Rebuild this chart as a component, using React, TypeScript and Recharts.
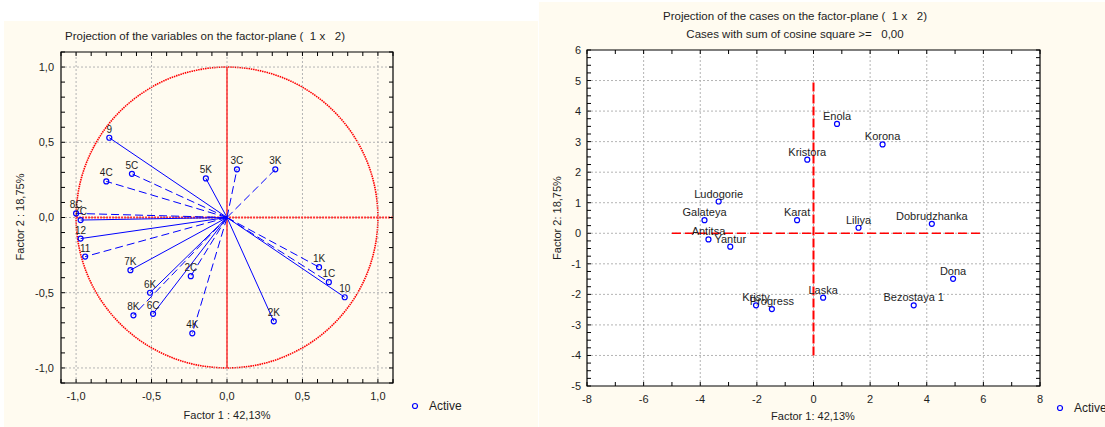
import React from "react";
import {
  ScatterChart,
  Scatter,
  XAxis,
  YAxis,
  ReferenceLine,
  ReferenceArea,
  CartesianGrid,
} from "recharts";

const FONT = "'Liberation Sans', Arial, Helvetica, sans-serif";
const CREAM = "#fffbf0";
const BLUE = "#0000ff";
const RED = "#ff0000";
const TXT = "#1e1e1e";

// ---------- Left chart: variables ----------
const varNames = ["9", "5C", "4C", "5K", "3C", "3K", "8C", "7C", "12", "11", "7K", "2C", "6K", "8K", "6C", "4K", "2K", "1K", "1C", "10"];
const varF1 = [-0.78, -0.63, -0.8, -0.14, 0.066, 0.32, -1.0, -0.97, -0.97, -0.94, -0.64, -0.24, -0.51, -0.62, -0.49, -0.23, 0.31, 0.61, 0.675, 0.78];
const varF2 = [0.53, 0.29, 0.24, 0.26, 0.32, 0.32, 0.027, -0.017, -0.14, -0.26, -0.35, -0.39, -0.5, -0.65, -0.64, -0.77, -0.69, -0.33, -0.43, -0.53];
const solidVars = ["9", "5K", "7C", "12", "7K", "6K", "6C", "2K", "10"];

const leftDomain: [number, number] = [-1.1, 1.1];
const leftMajorTicks = [-1, -0.5, 0, 0.5, 1];
const leftMinorStep = 0.1;

// ---------- Right chart: cases ----------
const caseNames = ["Enola", "Korona", "Kristora", "Ludogorie", "Galateya", "Karat", "Liliya", "Dobrudzhanka", "Antitsa", "Yantur", "Dona", "Laska", "Kristy", "Progress", "Bezostaya 1"];
const caseF1 = [0.83, 2.44, -0.22, -3.35, -3.85, -0.58, 1.59, 4.18, -3.71, -2.94, 4.93, 0.34, -2.03, -1.47, 3.54];
const caseF2 = [3.58, 2.91, 2.41, 1.04, 0.43, 0.43, 0.18, 0.31, -0.2, -0.44, -1.49, -2.11, -2.36, -2.48, -2.36];

const rightXDomain: [number, number] = [-8, 8];
const rightYDomain: [number, number] = [-5, 6];
const rightXLabels = [-8, -6, -4, -2, 0, 2, 4, 6, 8];
const rightYLabels = [-5, -4, -3, -2, -1, 0, 1, 2, 3, 4, 5, 6];
const rightXGrid = [-6, -4, -2, 0, 2, 4, 6];
const rightYGrid = [-4, -3, -2, -1, 0, 1, 2, 3, 4, 5];
const rightXMinorStep = 1;
const rightYMinorStep = 0.25;
// origin cross extents
const crossV = [-4, 5];
const crossH = [-5, 6];

// ---------- helpers ----------
const range = (a: number, b: number, s: number) =>
  Array.from({ length: Math.round((b - a) / s) + 1 }, (_, i) => +(a + i * s).toFixed(4));
const near = (v: number, list: number[]) => list.some((m) => Math.abs(m - v) < 1e-6);
const fmt1 = (v: number) => (Math.abs(v) < 1e-9 ? 0 : v).toFixed(1).replace(".", ",");

const varData = varNames.map((n, i) => ({ name: n, f1: varF1[i], f2: varF2[i] }));
const caseData = caseNames.map((n, i) => ({ name: n, f1: caseF1[i], f2: caseF2[i] }));

const leftTicks = range(leftDomain[0], leftDomain[1], leftMinorStep);
const rightXTicks = range(rightXDomain[0], rightXDomain[1], rightXMinorStep);
const rightYTicks = range(rightYDomain[0], rightYDomain[1], rightYMinorStep);

// geometry
const L_W = 534, L_H = 406;
const L_M = { top: 31, right: 145, bottom: 0, left: 0 };
const L_YW = 57, L_XH = 44;
const L_PW = L_W - L_M.left - L_M.right - L_YW;
const L_PH = L_H - L_M.top - L_M.bottom - L_XH;

const R_W = 566, R_H = 425;
const R_M = { top: 48, right: 65, bottom: 0, left: 0 };
const R_YW = 48, R_XH = 41;
const R_PW = R_W - R_M.left - R_M.right - R_YW;
const R_PH = R_H - R_M.top - R_M.bottom - R_XH;

const TL = 4; // tick length

const makeXTick = (plotH: number, isLabel: (v: number) => boolean, fmt: (v: number) => string) =>
  (props: any) => {
    const { x, y, payload } = props;
    const v = payload.value;
    return (
      <g>
        <line x1={x} y1={y} x2={x} y2={y - TL} stroke="#000" strokeWidth={1} />
        <line x1={x} y1={y - plotH} x2={x} y2={y - plotH + TL} stroke="#000" strokeWidth={1} />
        {isLabel(v) && (
          <text x={x} y={y + 17} textAnchor="middle" fontSize={11} fill={TXT} fontFamily={FONT}>
            {fmt(v)}
          </text>
        )}
      </g>
    );
  };

const makeYTick = (plotW: number, isLabel: (v: number) => boolean, fmt: (v: number) => string, gap: number) =>
  (props: any) => {
    const { x, y, payload } = props;
    const v = payload.value;
    return (
      <g>
        <line x1={x} y1={y} x2={x + TL} y2={y} stroke="#000" strokeWidth={1} />
        <line x1={x + plotW} y1={y} x2={x + plotW - TL} y2={y} stroke="#000" strokeWidth={1} />
        {isLabel(v) && (
          <text x={x - gap} y={y} dy="0.36em" textAnchor="end" fontSize={11} fill={TXT} fontFamily={FONT}>
            {fmt(v)}
          </text>
        )}
      </g>
    );
  };

const LeftXTick = makeXTick(L_PH, (v) => near(v, leftMajorTicks), fmt1);
const LeftYTick = makeYTick(L_PW, (v) => near(v, leftMajorTicks), fmt1, 7);
const RightXTick = makeXTick(R_PH, (v) => near(v, rightXLabels), (v) => String(Math.round(v)));
const RightYTick = makeYTick(R_PW, (v) => near(v, rightYLabels), (v) => String(Math.round(v)), 6);

const makePoint = (fontSize: number, lift: number) => (p: any) => {
  const name = p?.payload?.name ?? p?.name;
  return (
    <g>
      <circle cx={p.cx} cy={p.cy} r={2.5} fill="none" stroke={BLUE} strokeWidth={1.2} />
      <text x={p.cx} y={p.cy - lift} textAnchor="middle" fontSize={fontSize} fill={TXT} fontFamily={FONT}>
        {name}
      </text>
    </g>
  );
};

const Txt = ({ x, y, children, size = 11, rotate = false, anchor = "center" }: any) => (
  <div
    style={{
      position: "absolute",
      left: x,
      top: y,
      transform:
        (anchor === "left" ? "translate(0,-50%)" : "translate(-50%,-50%)") + (rotate ? " rotate(-90deg)" : ""),
      fontFamily: FONT,
      fontSize: size,
      color: TXT,
      whiteSpace: "pre",
      lineHeight: 1,
    }}
  >
    {children}
  </div>
);

const LegendMark = ({ x, y }: any) => (
  <svg style={{ position: "absolute", left: x - 4, top: y - 4 }} width={8} height={8}>
    <circle cx={4} cy={4} r={2.5} fill="none" stroke={BLUE} strokeWidth={1.2} />
  </svg>
);

const gridStyle = { stroke: "#b4b4b4", strokeDasharray: "2 2", strokeWidth: 1 };

export default function App() {
  return (
    <div style={{ position: "absolute", left: 0, top: 0, width: 1105, height: 427, background: "#fff", overflow: "hidden" }}>
      {/* Left panel */}
      <div style={{ position: "absolute", left: 4, top: 21, width: L_W, height: L_H, background: CREAM }}>
        <ScatterChart width={L_W} height={L_H} margin={L_M}>
          <XAxis
            type="number"
            dataKey="f1"
            domain={leftDomain}
            allowDataOverflow
            ticks={leftTicks}
            interval={0}
            height={L_XH}
            tickSize={0}
            tickMargin={0}
            axisLine={false}
            tickLine={false}
            tick={LeftXTick}
          />
          <YAxis
            type="number"
            dataKey="f2"
            domain={leftDomain}
            allowDataOverflow
            ticks={leftTicks}
            interval={0}
            width={L_YW}
            tickSize={0}
            tickMargin={0}
            axisLine={false}
            tickLine={false}
            tick={LeftYTick}
          />
          {leftMajorTicks.map((v) => (
            <ReferenceLine key={"lgx" + v} x={v} {...gridStyle} />
          ))}
          {leftMajorTicks.map((v) => (
            <ReferenceLine key={"lgy" + v} y={v} {...gridStyle} />
          ))}
          <ReferenceArea
            x1={-1}
            x2={1}
            y1={-1}
            y2={1}
            ifOverflow="visible"
            shape={(p: any) => (
              <ellipse
                cx={p.x + p.width / 2}
                cy={p.y + p.height / 2}
                rx={Math.abs(p.width) / 2}
                ry={Math.abs(p.height) / 2}
                fill="none"
                stroke={RED}
                strokeWidth={1.6}
                strokeDasharray="1.5 0.8"
              />
            )}
          />
          <ReferenceLine segment={[{ x: 0, y: -1 }, { x: 0, y: 1 }]} stroke={RED} strokeWidth={1.2} ifOverflow="visible" />
          <ReferenceLine
            segment={[{ x: -1, y: 0 }, { x: 1.1, y: 0 }]}
            stroke="#ff3030"
            strokeWidth={2}
            strokeDasharray="2 1"
            ifOverflow="visible"
          />
          {varData.map((d) => (
            <ReferenceLine
              key={"seg" + d.name}
              segment={[{ x: 0, y: 0 }, { x: d.f1, y: d.f2 }]}
              stroke={BLUE}
              strokeWidth={1}
              strokeDasharray={solidVars.includes(d.name) ? undefined : "8 4"}
              ifOverflow="visible"
            />
          ))}
          <ReferenceArea x1={leftDomain[0]} x2={leftDomain[1]} y1={leftDomain[0]} y2={leftDomain[1]} fill="none" stroke="#000" strokeWidth={1.2} fillOpacity={0} ifOverflow="visible" />
          <Scatter data={varData} isAnimationActive={false} shape={makePoint(10, 5)} />
        </ScatterChart>
      </div>

      {/* Right panel */}
      <div style={{ position: "absolute", left: 539, top: 2, width: R_W, height: R_H, background: CREAM }}>
        <ScatterChart width={R_W} height={R_H} margin={R_M}>
          <CartesianGrid horizontal={false} vertical={false} fill="#ffffff" />
          <XAxis
            type="number"
            dataKey="f1"
            domain={rightXDomain}
            allowDataOverflow
            ticks={rightXTicks}
            interval={0}
            height={R_XH}
            tickSize={0}
            tickMargin={0}
            axisLine={false}
            tickLine={false}
            tick={RightXTick}
          />
          <YAxis
            type="number"
            dataKey="f2"
            domain={rightYDomain}
            allowDataOverflow
            ticks={rightYTicks}
            interval={0}
            width={R_YW}
            tickSize={0}
            tickMargin={0}
            axisLine={false}
            tickLine={false}
            tick={RightYTick}
          />
          {rightXGrid.map((v) => (
            <ReferenceLine key={"rgx" + v} x={v} {...gridStyle} />
          ))}
          {rightYGrid.map((v) => (
            <ReferenceLine key={"rgy" + v} y={v} {...gridStyle} />
          ))}
          <ReferenceLine
            segment={[{ x: 0, y: crossV[0] }, { x: 0, y: crossV[1] }]}
            stroke={RED}
            strokeWidth={2}
            strokeDasharray="9 3"
            ifOverflow="visible"
          />
          <ReferenceLine
            segment={[{ x: crossH[0], y: 0 }, { x: crossH[1], y: 0 }]}
            stroke={RED}
            strokeWidth={1.6}
            strokeDasharray="9 4"
            ifOverflow="visible"
          />
          <ReferenceArea x1={rightXDomain[0]} x2={rightXDomain[1]} y1={rightYDomain[0]} y2={rightYDomain[1]} fill="none" stroke="#000" strokeWidth={1.2} fillOpacity={0} ifOverflow="visible" />
          <Scatter data={caseData} isAnimationActive={false} shape={makePoint(11, 4)} />
        </ScatterChart>
      </div>

      {/* Left texts */}
      <Txt x={205} y={37} size={11.5}>{"Projection of the variables on the factor-plane (  1 x   2)"}</Txt>
      <Txt x={227} y={415}>{"Factor 1 : 42,13%"}</Txt>
      <Txt x={20} y={217} rotate>{"Factor 2 : 18,75%"}</Txt>
      <LegendMark x={415} y={405.5} />
      <Txt x={429} y={406} size={12} anchor="left">Active</Txt>

      {/* Right texts */}
      <Txt x={795} y={17} size={11.5}>{"Projection of the cases on the factor-plane (  1 x   2)"}</Txt>
      <Txt x={795} y={35} size={11.5}>{"Cases with sum of cosine square >=   0,00"}</Txt>
      <Txt x={813} y={416}>{"Factor 1: 42,13%"}</Txt>
      <Txt x={557} y={218} rotate>{"Factor 2: 18,75%"}</Txt>
      <LegendMark x={1060} y={407.5} />
      <Txt x={1074} y={408} size={12} anchor="left">Active</Txt>
    </div>
  );
}
